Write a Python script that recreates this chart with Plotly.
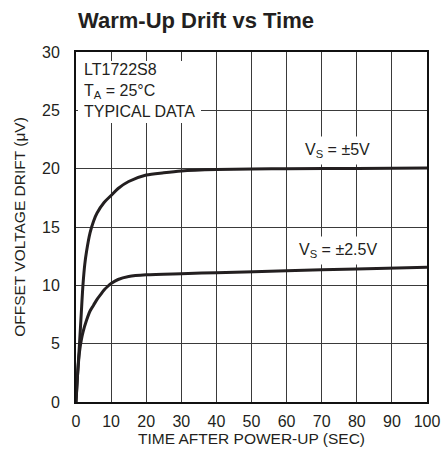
import plotly.graph_objects as go

# ---- data ----
time_5v = [0, 0.5, 1, 1.5, 2, 2.5, 3, 4, 5, 6, 8, 10, 12, 15, 20, 25, 30, 40, 50, 60, 80, 100]
drift_5v = [0, 2.6, 5.0, 7.6, 10.1, 11.8, 12.9, 14.5, 15.5, 16.2, 17.1, 17.7, 18.3, 18.9,
            19.45, 19.65, 19.8, 19.92, 19.97, 20.0, 20.02, 20.05]

time_25v = [0, 0.5, 1, 1.5, 2, 3, 4, 5, 6, 7, 8, 9, 10, 12, 15, 20, 30, 40, 60, 80, 100]
drift_25v = [0, 2.6, 4.3, 5.3, 6.0, 7.0, 7.8, 8.3, 8.8, 9.2, 9.6, 9.9, 10.15, 10.5, 10.75,
             10.9, 11.0, 11.08, 11.25, 11.4, 11.55]

x_ticks = [0, 10, 20, 30, 40, 50, 60, 70, 80, 90, 100]
y_ticks = [0, 5, 10, 15, 20, 25, 30]

FONT = "Liberation Sans, Arial, sans-serif"
LINE = "#231f20"
GRID = "#3a3a3a"
TXT = "#231f20"

fig = go.Figure()
for xs, ys in [(time_5v, drift_5v), (time_25v, drift_25v)]:
    fig.add_trace(go.Scatter(x=xs, y=ys, mode="lines",
                             line=dict(color=LINE, width=3, shape="spline", smoothing=0.8),
                             showlegend=False, hoverinfo="skip"))

# white box behind the note (hides gridlines there)
fig.add_annotation(x=0.45, y=23.9, xref="x", yref="y", xanchor="left", yanchor="bottom",
                   text=" ", showarrow=False, bgcolor="white", borderpad=0, borderwidth=0,
                   width=123, height=62)
fig.add_annotation(x=1.6, y=26.7, xref="x", yref="y", xanchor="left", yanchor="middle",
                   align="left", showarrow=False,
                   text="LT1722S8<br>T<sub>A</sub> = 25°C<br>TYPICAL DATA",
                   font=dict(family=FONT, size=16, color=TXT))

fig.add_annotation(x=74.5, y=21.6, xref="x", yref="y", showarrow=False,
                   text="V<sub>S</sub> = ±5V", bgcolor="white", borderpad=4,
                   font=dict(family=FONT, size=16, color=TXT))
fig.add_annotation(x=74.5, y=13.0, xref="x", yref="y", showarrow=False,
                   text="V<sub>S</sub> = ±2.5V", bgcolor="white", borderpad=4,
                   font=dict(family=FONT, size=16, color=TXT))

axis_common = dict(showgrid=True, gridcolor=GRID, gridwidth=1,
                   showline=True, linecolor="#111111", linewidth=2, mirror=True,
                   ticks="outside", tickcolor="rgba(0,0,0,0)", tickwidth=1,
                   zeroline=False, automargin=False,
                   tickfont=dict(family=FONT, size=16, color=TXT))

fig.update_xaxes(range=[0, 100], tickmode="array", tickvals=x_ticks,
                 ticktext=[str(v) for v in x_ticks], ticklen=4,
                 title=dict(text="TIME AFTER POWER-UP (SEC)", standoff=4,
                            font=dict(family=FONT, size=15.5, color=TXT)),
                 **axis_common)
fig.update_yaxes(range=[0, 30], tickmode="array", tickvals=y_ticks,
                 ticktext=[str(v) for v in y_ticks], ticklen=11,
                 title=dict(text="OFFSET VOLTAGE DRIFT (μV)", standoff=13,
                            font=dict(family=FONT, size=15.5, color=TXT)),
                 **axis_common)

fig.update_layout(
    width=441, height=458,
    margin=dict(l=76, r=14, t=52, b=56, autoexpand=False),
    paper_bgcolor="white", plot_bgcolor="white",
    title=dict(text="<b>Warm-Up Drift vs Time</b>", x=78 / 441, xanchor="left",
               xref="container", y=1 - 20 / 458, yanchor="middle", yref="container",
               font=dict(family=FONT, size=22, color=TXT)),
)

fig.write_html("out.html", config={"displayModeBar": False},
               post_script="document.body.style.margin='0';")
